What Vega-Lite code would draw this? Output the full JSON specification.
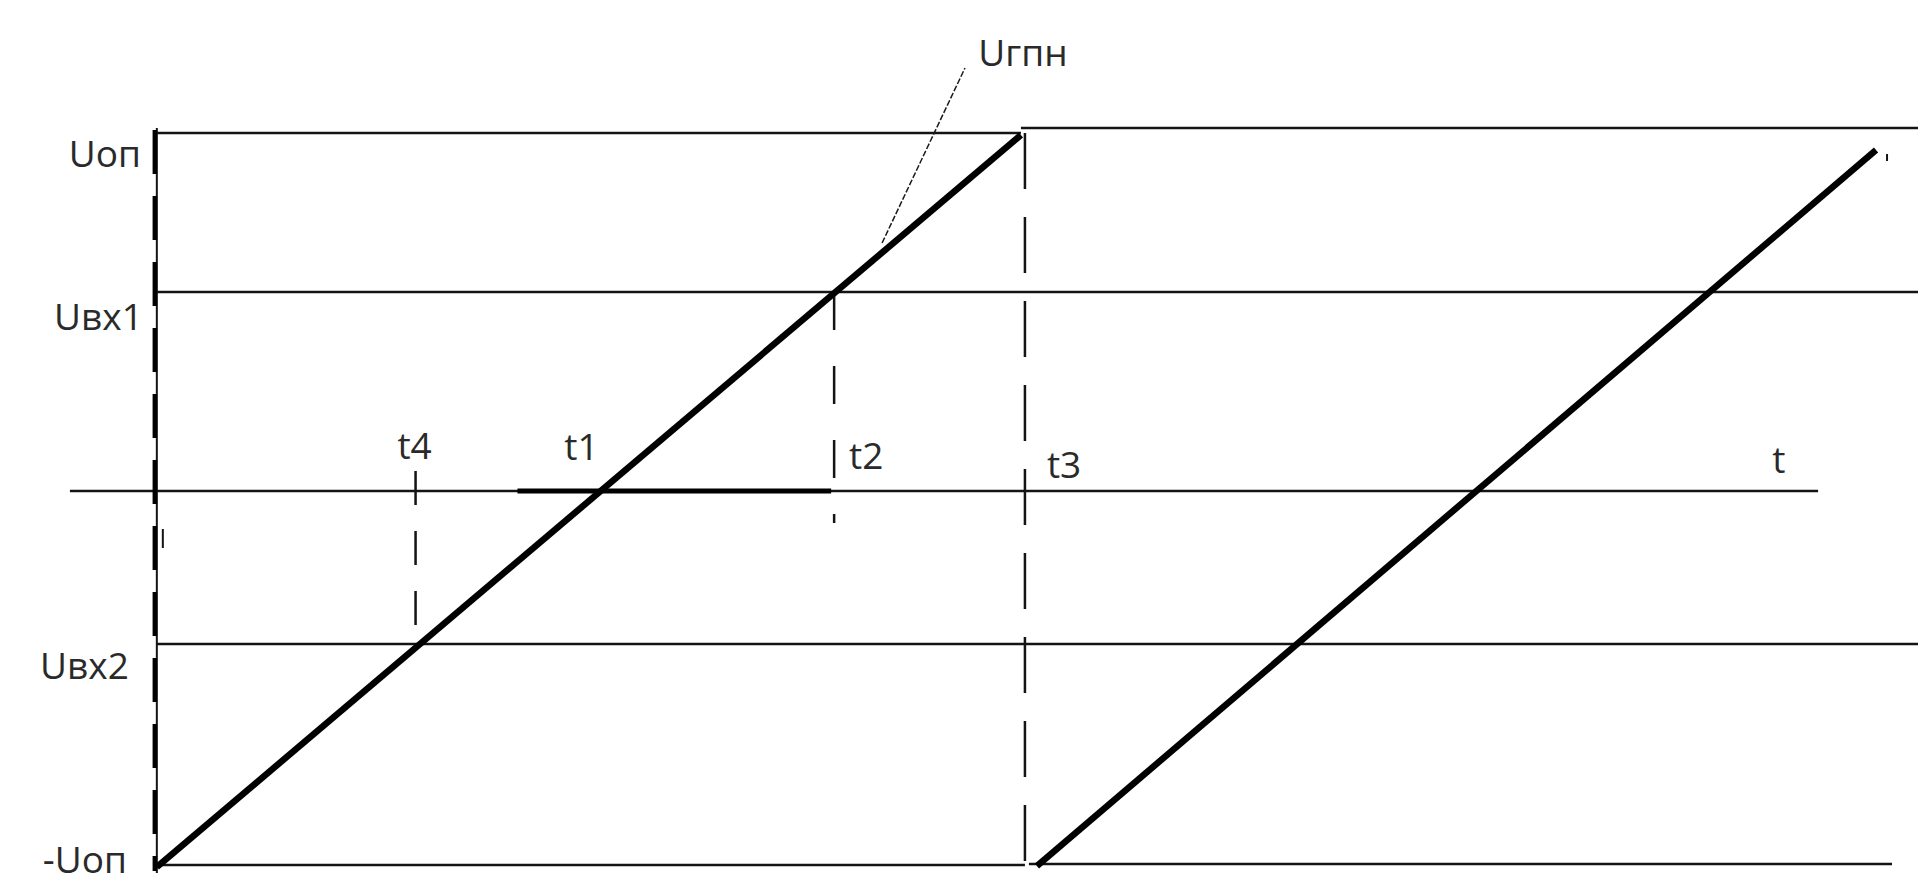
{
  "$schema": "https://vega.github.io/schema/vega-lite/v6.json",
  "width": 1920,
  "height": 886,
  "autosize": {"type": "fit", "contains": "padding"},
  "padding": 0,
  "background": "white",
  "config": {"view": {"stroke": null}},
  "datasets": {
    "levels": [
      {"name": "Uоп left", "t": 157, "t2": 1022, "u": 358},
      {"name": "Uоп right", "t": 1022, "t2": 1920, "u": 363},
      {"name": "Uвх1", "t": 157, "t2": 1920, "u": 199},
      {"name": "t axis", "t": 70, "t2": 1820, "u": 0},
      {"name": "Uвх2", "t": 157, "t2": 1920, "u": -153},
      {"name": "-Uоп left", "t": 157, "t2": 1026, "u": -374},
      {"name": "-Uоп right", "t": 1030, "t2": 1894, "u": -373}
    ],
    "bold": [
      {"name": "t1-t2", "t": 518, "t2": 832, "u": 0}
    ],
    "verticals": [
      {"name": "axis", "t": 157, "u": 363, "u2": -382},
      {"name": "axisdash", "t": 155, "u": 361, "u2": -380},
      {"name": "t4", "t": 416, "u": 20, "u2": -153},
      {"name": "t2", "t": 835, "u": 199, "u2": -32},
      {"name": "t3", "t": 1026, "u": 358, "u2": -382},
      {"name": "tick a", "t": 163, "u": -38, "u2": -57},
      {"name": "tick b", "t": 1889, "u": 337, "u2": 330}
    ],
    "ramps": [
      {"series": "1", "t": 157, "u": -376},
      {"series": "1", "t": 1022, "u": 356},
      {"series": "2", "t": 1038, "u": -375},
      {"series": "2", "t": 1878, "u": 341}
    ],
    "leader": [
      {"t": 966, "u": 423},
      {"t": 883, "u": 248}
    ],
    "labelsRight": [
      {"label": "Uоп", "t": 141, "u": 324},
      {"label": "Uвх1", "t": 143, "u": 161},
      {"label": "Uвх2", "t": 129, "u": -188},
      {"label": "-Uоп", "t": 127, "u": -382}
    ],
    "labelsCenter": [
      {"label": "t4", "t": 415, "u": 32},
      {"label": "t1", "t": 582, "u": 31},
      {"label": "Uгпн", "t": 1024, "u": 425}
    ],
    "labelsLeft": [
      {"label": "t2", "t": 850, "u": 22},
      {"label": "t3", "t": 1048, "u": 13},
      {"label": "t", "t": 1774, "u": 18}
    ]
  },
  "layer": [
    {
      "data": {"name": "levels"},
      "mark": {"type": "rule", "strokeWidth": 2.5, "color": "#141414"},
      "encoding": {
        "x": {"field": "t", "type": "quantitative", "scale": {"domain": [0, 1920], "nice": false, "zero": false}, "axis": null},
        "x2": {"field": "t2"},
        "y": {"field": "u", "type": "quantitative", "scale": {"domain": [-395, 491], "nice": false, "zero": false}, "axis": null}
      }
    },
    {
      "data": {"name": "bold"},
      "mark": {"type": "rule", "strokeWidth": 5, "color": "#000000"},
      "encoding": {
        "x": {"field": "t", "type": "quantitative"},
        "x2": {"field": "t2"},
        "y": {"field": "u", "type": "quantitative"}
      }
    },
    {
      "data": {"name": "verticals"},
      "transform": [{"filter": "datum.name == 'axis' || datum.name == 'tick a' || datum.name == 'tick b'"}],
      "mark": {"type": "rule", "strokeWidth": 2, "color": "#141414"},
      "encoding": {
        "x": {"field": "t", "type": "quantitative"},
        "y": {"field": "u", "type": "quantitative"},
        "y2": {"field": "u2"}
      }
    },
    {
      "data": {"name": "verticals"},
      "transform": [{"filter": "datum.name == 'axisdash'"}],
      "mark": {"type": "rule", "strokeWidth": 4.5, "color": "#000000", "strokeDash": [44, 22]},
      "encoding": {
        "x": {"field": "t", "type": "quantitative"},
        "y": {"field": "u", "type": "quantitative"},
        "y2": {"field": "u2"}
      }
    },
    {
      "data": {"name": "verticals"},
      "transform": [{"filter": "datum.name == 't4'"}],
      "mark": {"type": "rule", "strokeWidth": 2.5, "color": "#141414", "strokeDash": [34, 26]},
      "encoding": {
        "x": {"field": "t", "type": "quantitative"},
        "y": {"field": "u", "type": "quantitative"},
        "y2": {"field": "u2"}
      }
    },
    {
      "data": {"name": "verticals"},
      "transform": [{"filter": "datum.name == 't2'"}],
      "mark": {"type": "rule", "strokeWidth": 2.5, "color": "#141414", "strokeDash": [38, 36]},
      "encoding": {
        "x": {"field": "t", "type": "quantitative"},
        "y": {"field": "u", "type": "quantitative"},
        "y2": {"field": "u2"}
      }
    },
    {
      "data": {"name": "verticals"},
      "transform": [{"filter": "datum.name == 't3'"}],
      "mark": {"type": "rule", "strokeWidth": 2.5, "color": "#141414", "strokeDash": [56, 28]},
      "encoding": {
        "x": {"field": "t", "type": "quantitative"},
        "y": {"field": "u", "type": "quantitative"},
        "y2": {"field": "u2"}
      }
    },
    {
      "data": {"name": "ramps"},
      "mark": {"type": "line", "strokeWidth": 6.5, "color": "#000000", "strokeCap": "butt"},
      "encoding": {
        "x": {"field": "t", "type": "quantitative"},
        "y": {"field": "u", "type": "quantitative"},
        "detail": {"field": "series", "type": "nominal"}
      }
    },
    {
      "data": {"name": "leader"},
      "mark": {"type": "line", "strokeWidth": 1.5, "color": "#1a1a1a", "strokeDash": [6, 2]},
      "encoding": {
        "x": {"field": "t", "type": "quantitative"},
        "y": {"field": "u", "type": "quantitative"},
        "order": {"field": "u", "type": "quantitative"}
      }
    },
    {
      "data": {"name": "labelsRight"},
      "mark": {"type": "text", "align": "right", "baseline": "alphabetic", "font": "Open Sans", "fontSize": 37, "color": "#2a2a2a"},
      "encoding": {
        "x": {"field": "t", "type": "quantitative"},
        "y": {"field": "u", "type": "quantitative"},
        "text": {"field": "label"}
      }
    },
    {
      "data": {"name": "labelsCenter"},
      "mark": {"type": "text", "align": "center", "baseline": "alphabetic", "font": "Open Sans", "fontSize": 37, "color": "#2a2a2a"},
      "encoding": {
        "x": {"field": "t", "type": "quantitative"},
        "y": {"field": "u", "type": "quantitative"},
        "text": {"field": "label"}
      }
    },
    {
      "data": {"name": "labelsLeft"},
      "mark": {"type": "text", "align": "left", "baseline": "alphabetic", "font": "Open Sans", "fontSize": 37, "color": "#2a2a2a"},
      "encoding": {
        "x": {"field": "t", "type": "quantitative"},
        "y": {"field": "u", "type": "quantitative"},
        "text": {"field": "label"}
      }
    }
  ]
}
